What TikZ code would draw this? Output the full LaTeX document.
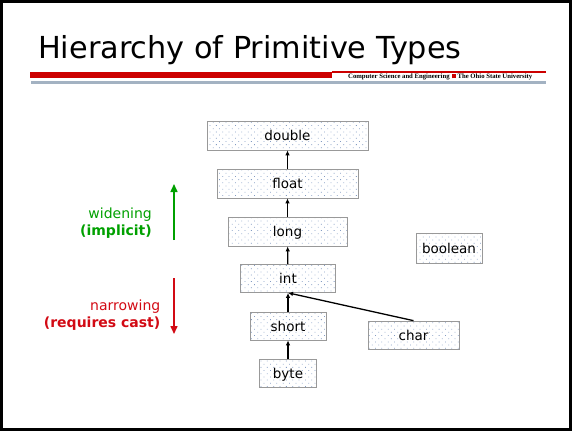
\documentclass[tikz,border=0pt]{standalone}
\usepackage{fontspec}
\setmainfont{DejaVu Sans}
\newfontfamily\barfont{Liberation Serif}
\usepackage{tikz}
\usetikzlibrary{positioning,arrows.meta,patterns.meta}

\definecolor{barred}{RGB}{204,0,0}
\definecolor{bargray}{RGB}{163,178,194}
\definecolor{dotblue}{RGB}{130,155,195}
\definecolor{widegreen}{RGB}{0,160,0}
\definecolor{narrowred}{RGB}{210,10,20}

\tikzset{
  typebox/.style={draw=gray!80, line width=0.7pt,
    pattern={Dots[distance=4.5pt, radius=0.55pt, angle=45]}, pattern color=dotblue,
    inner sep=0pt, text height=2ex, text depth=0.15ex,
    font=\fontsize{13.5}{16}\selectfont},
  up/.style={line width=1.3pt, -{Latex[length=5pt,width=4.5pt]}},
  sidelabel/.style={anchor=base east, inner sep=0pt, font=\fontsize{14}{17}\selectfont},
}

\begin{document}
\begin{tikzpicture}[x=1pt, y=-1pt]
  \useasboundingbox (0,0) rectangle (572,431);
  \draw[line width=3pt] (1.5,1.5) rectangle (570.5,429.5);

  % title and bars
  \node[anchor=base west, inner sep=0pt, font=\fontsize{30.3}{34}\selectfont] (title) at (38,58) {Hierarchy of Primitive Types};
  \fill[barred] (30,71.7) rectangle (332,78.3);
  \fill[barred] (332,71.3) rectangle (546,72.5);
  \fill[bargray] (31,80.5) rectangle (546,84);
  \node[anchor=base west, inner sep=0pt, font=\barfont\bfseries\fontsize{6.7}{7}\selectfont] (dept) at (348,78.3)
    {Computer Science and Engineering\hspace{2pt}\textcolor{barred}{\rule{4pt}{4pt}}\hspace{2pt}The Ohio State University};

  % type boxes
  \node[typebox, minimum width=161pt, minimum height=29pt] (double) at (287.5,135.5) {double};
  \node[typebox, minimum width=141pt, minimum height=29pt] (float) at (287.5,183.5) {float};
  \node[typebox, minimum width=119pt, minimum height=29pt] (long) at (287.5,231.5) {long};
  \node[typebox, minimum width=95pt, minimum height=28pt] (int) at (288,278.5) {int};
  \node[typebox, minimum width=76pt, minimum height=28pt] (short) at (288,326) {short};
  \node[typebox, minimum width=57pt, minimum height=28pt] (byte) at (288,373) {byte};
  \node[typebox, minimum width=91pt, minimum height=28pt] (char) at (413.5,335) {char};
  \node[typebox, minimum width=66pt, minimum height=30pt] (boolean) at (449,248.5) {boolean};

  \draw[up] (float) -- (double);
  \draw[up] (long) -- (float);
  \draw[up] (int) -- (long);
  \draw[up] (short) -- (int);
  \draw[up] (byte) -- (short);
  \draw[up] (char.north) -- (int.south);

  % widening / narrowing
  \node[sidelabel, text=widegreen] (wide) at (152,218.3) {widening};
  \node[sidelabel, text=widegreen] (impl) at (152,235) {\bfseries (implicit)};
  \node[sidelabel, text=narrowred] (narrow) at (160.5,310) {narrowing};
  \node[sidelabel, text=narrowred] (cast) at (160.5,327) {\bfseries (requires cast)};

  \coordinate (wtail) at (174,240);
  \coordinate (whead) at (174,184);
  \coordinate (ntail) at (174,278);
  \coordinate (nhead) at (174,334);
  \draw[widegreen, line width=1.5pt, -{Triangle[length=8pt,width=7pt]}] (wtail) -- (whead);
  \draw[narrowred, line width=1.5pt, -{Triangle[length=8pt,width=7pt]}] (ntail) -- (nhead);
\end{tikzpicture}
\end{document}
